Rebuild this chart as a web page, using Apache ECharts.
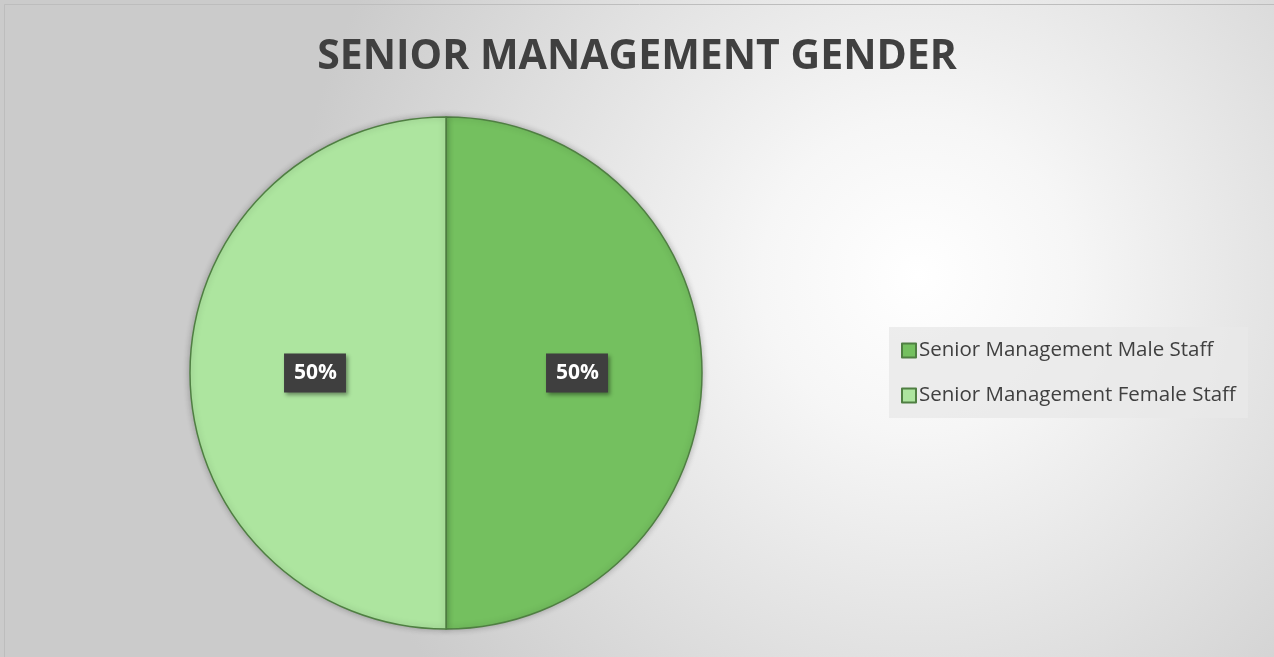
<!DOCTYPE html>
<html>
<head>
<meta charset="utf-8">
<script src="https://cdn.jsdelivr.net/npm/echarts@6/dist/echarts.min.js"></script>
<style>
html, body { margin: 0; padding: 0; background: #fff; }
#main { width: 1274px; height: 657px; }
</style>
</head>
<body>
<div id="main"></div>
<script>
let pieChart = echarts.init(document.getElementById('main'));

// 数据
let categories = ['Senior Management Male Staff', 'Senior Management Female Staff'];
let values = [50, 50];
let colors = ['#74c05f', '#ade59f'];

let pieData = [];
categories.forEach(function(name, i) {
	pieData.push({
		name : name,
		value : values[i],
		itemStyle : { color : colors[i] }
	});
});

let option = {
	backgroundColor : {
		type : 'radial', x : 0.72, y : 0.42, r : 0.95,
		colorStops : [{ offset : 0, color : '#ffffff' }, { offset : 0.25, color : '#f6f6f6' }, { offset : 1, color : '#cbcbcb' }]
	},
	graphic : [{
		type : 'rect',
		shape : { x : 4.5, y : 4.5, width : 1270, height : 653 },
		style : { fill : 'none', stroke : '#bdbdbd', lineWidth : 1 },
		silent : true
	}],
	title : {
		text : 'SENIOR MANAGEMENT GENDER',
		left : 'center',
		top : 32,
		textStyle : {
			fontFamily : 'Open Sans',
			fontWeight : 'bold',
			fontSize : 41,
			color : '#404040'
		}
	},
	legend : {
		orient : 'vertical',
		left : 889,
		top : 327,
		padding : [13, 12, 12, 12],
		itemGap : 24,
		itemWidth : 14,
		itemHeight : 14,
		icon : 'rect',
		backgroundColor : 'rgba(232,232,232,0.8)',
		textStyle : { fontFamily : 'Open Sans', fontSize : 20.5, color : '#404040', padding : [0, 0, 0, -2] },
		data : categories
	},
	series : [{
		type : 'pie',
		center : [446, 373],
		radius : 256,
		startAngle : 90,
		clockwise : true,
		itemStyle : {
			borderColor : '#4f7f42',
			borderWidth : 1.5,
			shadowColor : 'rgba(0,0,0,0.25)',
			shadowBlur : 6
		},
		emphasis : { disabled : true },
		label : {
			show : true,
			position : 'inside',
			formatter : '{d}%',
			color : '#ffffff',
			fontFamily : 'Open Sans',
			fontWeight : 'bold',
			fontSize : 21,
			backgroundColor : '#3f3f3f',
			padding : [10, 9, 8, 10],
			shadowColor : 'rgba(0,0,0,0.4)',
			shadowBlur : 4,
			shadowOffsetX : 2,
			shadowOffsetY : 2
		},
		labelLine : { show : false },
		data : pieData
	}]
};
pieChart.setOption(option);
</script>
</body>
</html>
